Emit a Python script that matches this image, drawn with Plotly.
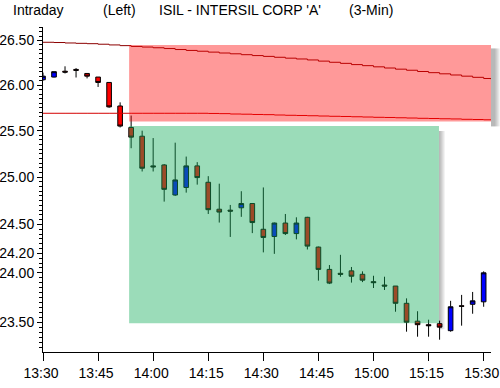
import math
import pandas as pd
import plotly.graph_objects as go

# ---------------- data ----------------
day = "2024-01-02"
bar_times = pd.date_range(f"{day} 13:30", periods=41, freq="3min")
axis_end = pd.Timestamp(f"{day} 15:32")

open_ = [26.06, 26.09, 26.155, 26.175, 26.13, 26.09, 26.03, 25.77, 25.535, 25.44,
         25.12, 25.13, 24.81, 24.89, 25.12, 24.945, 24.66, 24.65, 24.675, 24.72,
         24.45, 24.375, 24.515, 24.405, 24.575, 24.265, 24.035, 23.995, 24.02, 23.985,
         23.91, 23.875, 23.865, 23.69, 23.51, 23.475, 23.485, 23.415, 23.665, 23.68,
         23.705]
high = [26.14, 26.15, 26.21, 26.19, 26.13, 26.09, 26.03, 25.81, 25.665, 25.50,
        25.42, 25.14, 25.37, 25.22, 25.16, 25.01, 24.93, 24.705, 24.85, 24.72,
        24.89, 24.52, 24.61, 24.575, 24.58, 24.27, 24.08, 24.185, 24.06, 24.015,
        23.97, 23.96, 23.865, 23.74, 23.61, 23.525, 23.515, 23.715, 23.775, 23.805,
        24.015]
low = [26.05, 26.085, 26.13, 26.085, 26.075, 25.98, 25.75, 25.535, 25.31, 25.06,
       25.06, 24.74, 24.80, 24.835, 24.92, 24.61, 24.52, 24.37, 24.58, 24.41,
       24.21, 24.195, 24.39, 24.345, 24.24, 23.92, 23.885, 23.96, 23.90, 23.905,
       23.845, 23.825, 23.605, 23.405, 23.355, 23.355, 23.325, 23.405, 23.465, 23.585,
       23.655]
close = [26.10, 26.15, 26.145, 26.165, 26.10, 26.03, 25.76, 25.55, 25.43, 25.095,
         25.11, 24.87, 24.97, 25.12, 24.995, 24.655, 24.63, 24.64, 24.72, 24.52,
         24.365, 24.515, 24.405, 24.515, 24.275, 24.035, 23.895, 23.985, 23.965, 23.925,
         23.90, 23.865, 23.69, 23.50, 23.475, 23.465, 23.45, 23.655, 23.66, 23.715,
         24.00]

# channel lines (value per bar, last value held to the axis end)
upper_line = [26.480, 26.477, 26.472, 26.468, 26.464, 26.458, 26.450, 26.442, 26.433, 26.426,
              26.418, 26.409, 26.398, 26.388, 26.379, 26.369, 26.359, 26.350, 26.340, 26.330,
              26.321, 26.311, 26.301, 26.292, 26.281, 26.268, 26.255, 26.243, 26.229, 26.217,
              26.204, 26.191, 26.178, 26.166, 26.152, 26.139, 26.126, 26.113, 26.100, 26.087,
              26.074, 26.066]
lower_line = [25.690, 25.690, 25.690, 25.690, 25.690, 25.690, 25.690, 25.690, 25.690, 25.690,
              25.690, 25.690, 25.690, 25.690, 25.690, 25.688, 25.686, 25.682, 25.680, 25.677,
              25.675, 25.671, 25.668, 25.666, 25.663, 25.660, 25.657, 25.655, 25.652, 25.649,
              25.646, 25.644, 25.641, 25.638, 25.635, 25.633, 25.630, 25.628, 25.624, 25.622,
              25.619, 25.617]
line_times = list(bar_times) + [axis_end]

# zones
zone_start = f"{day} 13:53:27"
red_zone = (25.60, 26.45)
green_zone = (23.49, 25.55)
green_end = f"{day} 15:17:50"

y_ticks = [23.5, 24.0, 24.2, 24.5, 25.0, 25.5, 26.0, 26.5]
y_range = (23.203, 26.653)

FONT = "Liberation Sans, Arial, sans-serif"

fig = go.Figure()

fig.add_trace(go.Scatter(x=line_times, y=upper_line, mode="lines", line=dict(color="#8c0000", width=1, shape="hv"),
                         hoverinfo="skip", showlegend=False))
fig.add_trace(go.Scatter(x=line_times, y=lower_line, mode="lines", line=dict(color="#d40000", width=1, shape="hv"),
                         hoverinfo="skip", showlegend=False))

fig.add_trace(go.Candlestick(
    x=bar_times, open=open_, high=high, low=low, close=close,
    increasing=dict(fillcolor="#0000ff", line=dict(color="#000000", width=1)),
    decreasing=dict(fillcolor="#ff0000", line=dict(color="#000000", width=1)),
    whiskerwidth=0, showlegend=False, hoverinfo="skip"))

shapes = []
# red zone
shapes.append(dict(type="rect", xref="x", yref="y", x0=zone_start, x1=f"{day} 15:40",
                   y0=red_zone[0], y1=red_zone[1], fillcolor="rgba(255,0,0,0.4)",
                   line=dict(width=0), layer="above"))
# red zone shadow (bottom strip + right strip beyond plot edge)
for k in range(1, 7):
    shapes.append(dict(type="rect", xref="x", yref="y", ysizemode="pixel", yanchor=red_zone[0],
                       x0=f"{day} 13:54:50", x1=f"{day} 15:40", y0=0, y1=-k,
                       fillcolor="rgba(0,0,0,0.06)", line=dict(width=0), layer="above"))
    shapes.append(dict(type="rect", xref="paper", yref="y", xsizemode="pixel", xanchor=1,
                       x0=0, x1=k + 3, y0=red_zone[0] * 0.9979, y1=red_zone[1] * 0.9985,
                       fillcolor="rgba(0,0,0,0.05)", line=dict(width=0), layer="above"))
# green zone
shapes.append(dict(type="rect", xref="x", yref="y", x0=zone_start, x1=green_end,
                   y0=green_zone[0], y1=green_zone[1], fillcolor="rgba(23,174,93,0.43)",
                   line=dict(width=0), layer="above"))
for k in range(1, 7):
    shapes.append(dict(type="rect", xref="x", yref="y", ysizemode="pixel", yanchor=green_zone[0],
                       x0=f"{day} 13:54:50", x1=green_end, y0=0, y1=-k,
                       fillcolor="rgba(0,0,0,0.05)", line=dict(width=0), layer="above"))
    shapes.append(dict(type="rect", xref="x", yref="y", xsizemode="pixel", xanchor=green_end,
                       x0=0, x1=k, y0=green_zone[0] * 0.9974, y1=green_zone[1] * 0.9979,
                       fillcolor="rgba(0,0,0,0.05)", line=dict(width=0), layer="above"))

title_parts = [("Intraday", -0.0714), ("(Left)", 0.1295),
               ("ISIL - INTERSIL CORP 'A'", 0.2545), ("(3-Min)", 0.6786)]
annotations = [dict(text=t, x=xp, y=1.0523, xref="paper", yref="paper", xanchor="left",
                    yanchor="middle", showarrow=False, font=dict(family=FONT, size=14, color="#000"))
               for t, xp in title_parts]

minor_vals = [round(23.25 + 0.05 * i, 2) for i in range(70)]

fig.update_layout(
    width=500, height=388,
    margin=dict(l=43, r=9, t=27, b=36),
    paper_bgcolor="white", plot_bgcolor="white",
    shapes=shapes, annotations=annotations,
    boxgap=0.4, boxgroupgap=0.3,
    font=dict(family=FONT, size=14, color="#000"),
    xaxis=dict(
        type="date", range=[bar_times[0], axis_end], automargin=False,
        rangeslider=dict(visible=False),
        tick0=bar_times[0], dtick=15 * 60 * 1000, tickformat="%H:%M",
        ticks="outside", ticklen=8, tickcolor="#000", tickwidth=1,
        ticklabeloverflow="allow", ticklabelshift=-2,
        showline=True, linecolor="#000", linewidth=1,
        showgrid=False, zeroline=False,
        tickfont=dict(family=FONT, size=14, color="#000"),
    ),
    yaxis=dict(
        type="log", range=[math.log10(y_range[0]), math.log10(y_range[1])], automargin=False,
        tickvals=y_ticks, ticktext=[f"{v:.2f}" for v in y_ticks],
        ticks="outside", ticklen=5, tickcolor="#000", tickwidth=1,
        minor=dict(tickvals=minor_vals, ticks="outside", ticklen=3, tickcolor="#000", showgrid=False),
        showline=True, linecolor="#000", linewidth=1,
        showgrid=False, zeroline=False,
        tickfont=dict(family=FONT, size=14, color="#000"),
    ),
)

fig.write_html("out.html", config={"displayModeBar": False},
               post_script="document.body.style.margin='0';document.body.style.overflow='hidden';")
